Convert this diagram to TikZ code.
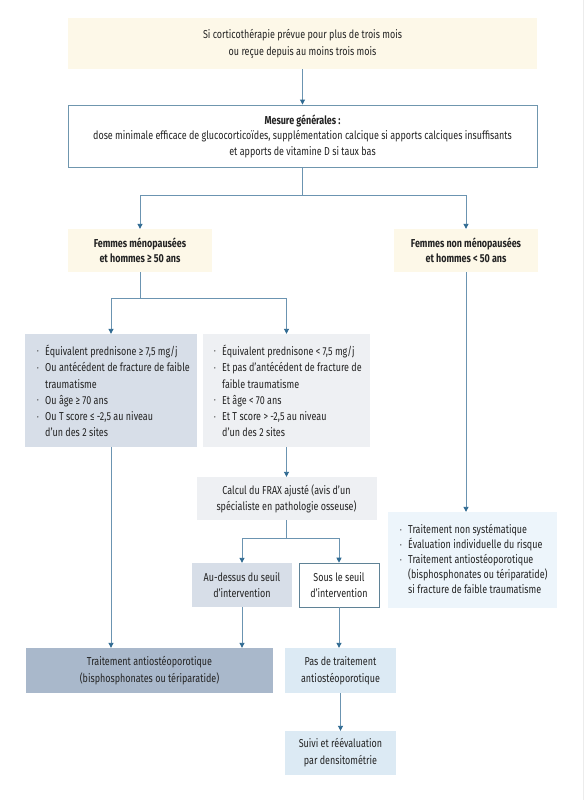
\documentclass[tikz,border=0pt]{standalone}
\usepackage{fontspec}
\usepackage{graphicx}
\setmainfont{Fira Sans}[FakeStretch=0.78]
\usetikzlibrary{arrows.meta,positioning}
\definecolor{cream}{HTML}{FDF8E8}
\definecolor{linec}{HTML}{6B94B1}
\definecolor{tipc}{HTML}{2F6A92}
\definecolor{genb}{HTML}{6F96AE}
\definecolor{bluegray}{HTML}{D7DEE8}
\definecolor{lightgray}{HTML}{EEF0F3}
\definecolor{treat}{HTML}{A9B8CB}
\definecolor{paleblue}{HTML}{DCEAF4}
\definecolor{verypale}{HTML}{EDF5FB}
\definecolor{ssb}{HTML}{5F8296}
\definecolor{txt}{HTML}{222222}
\newcommand{\bul}{\llap{\raisebox{0.25ex}{\scalebox{0.55}{\textbullet}}\hspace{6.5pt}}}
\begin{document}
\begin{tikzpicture}[x=1pt,y=-1pt,
  every node/.style={text=txt,font=\fontsize{11.5}{16}\selectfont},
  box/.style={inner sep=0pt,align=center},
  ln/.style={draw=linec,line width=0.9pt},
  arr/.style={ln,-{Triangle[width=5pt,length=5pt,color=tipc]}},
  btxt/.style={anchor=west,align=left,inner sep=0pt,font=\fontsize{11.5}{16.3}\selectfont}
]
\fill[white] (0,0) rectangle (584,800);
\useasboundingbox (0,0) rectangle (584,800);
\draw[gray!15,line width=0.6pt] (583.5,0) -- (583.5,800);

% boxes
\node[box,fill=cream,minimum width=469,minimum height=51,font=\fontsize{11.5}{17}\selectfont] (top) at (302.5,43.5)
  {Si corticothérapie prévue pour plus de trois mois\\ou reçue depuis au moins trois mois};
\node[box,fill=white,draw=genb,line width=0.9pt,minimum width=469,minimum height=62,font=\fontsize{11.5}{15.5}\selectfont] (gen) at (302.5,136)
  {\textbf{Mesure générales :}\\dose minimale efficace de glucocorticoïdes, supplémentation calcique si apports calciques insuffisants\\et apports de vitamine D si taux bas};
\node[box,fill=cream,minimum width=144,minimum height=43,font=\fontsize{11.5}{15}\selectfont\bfseries] (wl) at (140,250.5)
  {Femmes ménopausées\\et hommes ≥ 50 ans};
\node[box,fill=cream,minimum width=144,minimum height=43,font=\fontsize{11.5}{15}\selectfont\bfseries] (wr) at (466,250.5)
  {Femmes non ménopausées\\et hommes < 50 ans};
\node[box,fill=bluegray,minimum width=172,minimum height=113] (lb) at (111,390.5) {};
\node[box,fill=lightgray,minimum width=167,minimum height=113] (mb) at (286.5,390.5) {};
\node[box,fill=lightgray,minimum width=180,minimum height=43] (fx) at (286.5,498.5)
  {Calcul du FRAX ajusté (avis d'un\\spécialiste en pathologie osseuse)};
\node[box,fill=bluegray,minimum width=100,minimum height=44] (au) at (242,585)
  {Au-dessus du seuil\\d'intervention};
\node[box,fill=white,draw=ssb,line width=0.6pt,minimum width=80,minimum height=44] (ss) at (339,585)
  {Sous le seuil\\d'intervention};
\node[box,fill=treat,minimum width=247,minimum height=45,font=\fontsize{11.5}{17}\selectfont] (tr) at (149.5,670.5)
  {Traitement antiostéoporotique\\(bisphosphonates ou tériparatide)};
\node[box,fill=paleblue,minimum width=111,minimum height=45,font=\fontsize{11.5}{17}\selectfont] (pt) at (340.5,670.5)
  {Pas de traitement\\antiostéoporotique};
\node[box,fill=paleblue,minimum width=111,minimum height=44,font=\fontsize{11.5}{17}\selectfont] (sv) at (340.5,753)
  {Suivi et réévaluation\\par densitométrie};
\node[box,fill=verypale,minimum width=169,minimum height=96] (rb) at (472.5,560) {};

% bullet texts
\node[btxt] (lbt) at (45,391) {\bul Équivalent prednisone ≥ 7,5 mg/j\\\bul Ou antécédent de fracture de faible\\traumatisme\\\bul Ou âge ≥ 70 ans\\\bul Ou T score ≤ -2,5 au niveau\\d'un des 2 sites};
\node[btxt] (mbt) at (222,391) {\bul Équivalent prednisone < 7,5 mg/j\\\bul Et pas d'antécédent de fracture de\\faible traumatisme\\\bul Et âge < 70 ans\\\bul Et T score > -2,5 au niveau\\d'un des 2 sites};
\node[btxt,font=\fontsize{11.5}{15}\selectfont] (rbt) at (408,559) {\bul Traitement non systématique\\\bul Évaluation individuelle du risque\\\bul Traitement antiostéoporotique\\(bisphosphonates ou tériparatide)\\si fracture de faible traumatisme};

% junctions
\coordinate (j1) at (302.5,195);
\coordinate (j2) at (140,298);
\coordinate (j3) at (286.5,538);

% connectors
\draw[arr] (top.south) -- (gen.north);
\draw[ln] (gen.south) -- (j1);
\draw[arr] (j1) -| (wl.north);
\draw[arr] (j1) -| (wr.north);
\draw[ln] (wl.south) -- (j2);
\draw[arr] (j2) -| (lb.north);
\draw[arr] (j2) -| (mb.north);
\draw[arr] (mb.south) -- (fx.north);
\draw[ln] (fx.south) -- (j3);
\draw[arr] (j3) -| (au.north);
\draw[arr] (j3) -| (ss.north);
\draw[arr] (lb.south) -- (lb.south |- tr.north);
\draw[arr] (au.south) -- (au.south |- tr.north);
\draw[arr] (ss.south) -- (ss.south |- pt.north);
\draw[arr] (pt.south) -- (sv.north);
\draw[arr] (wr.south) -- (wr.south |- rb.north);
\end{tikzpicture}
\end{document}
